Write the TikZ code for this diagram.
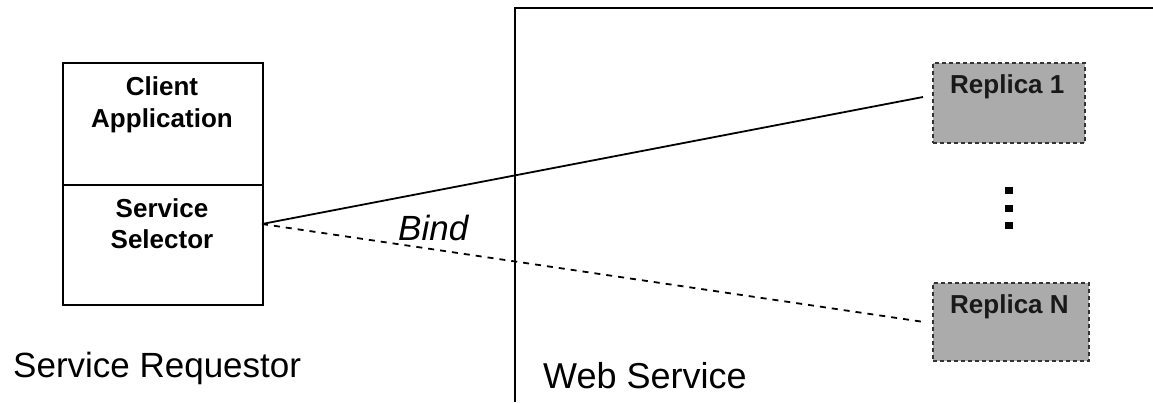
\documentclass[tikz,border=0pt]{standalone}
\usepackage{fontspec}
\setmainfont{Liberation Sans}
\begin{document}
\begin{tikzpicture}[x=1pt,y=-1pt,
  box/.style={draw=black, line width=1.8pt, inner sep=0pt, anchor=north west},
  boxlabel/.style={font=\fontsize{26}{32}\selectfont\bfseries, anchor=base, inner sep=0pt},
  caption/.style={inner sep=0pt, anchor=base west},
  replica/.style={draw=black!80, dashed, dash pattern=on 4pt off 3pt, line width=1.5pt,
    fill=black!33, inner sep=0pt, anchor=north west},
  replicalabel/.style={font=\fontsize{26}{32}\selectfont\bfseries, text=black!90,
    inner sep=0pt, anchor=base west},
  link/.style={line width=1.8pt},
  dot/.style={fill=black, minimum width=8pt, minimum height=7pt, inner sep=0pt}
]
\useasboundingbox (0,0) rectangle (1153,402);

% Web service frame
\draw[line width=2.6pt] (515,402) -- (515,8) -- (1153,8);

% Service requestor: client application stacked on the service selector
\node[box, minimum width=200pt, minimum height=122pt] (client) at (62,62) {};
\node[box, minimum width=200pt, minimum height=120pt] (selector) at (62,184) {};
\node[boxlabel] (clientlbl) at (162,95) {Client};
\node[boxlabel] (applbl) at (162,127) {Application};
\node[boxlabel] (servlbl) at (162,217) {Service};
\node[boxlabel] (sellbl) at (162,248) {Selector};
\coordinate (bindpt) at (262,224);

% Replicas
\node[replica, minimum width=152pt, minimum height=80pt] (rep1) at (932,62) {};
\node[replica, minimum width=156pt, minimum height=78pt] (repN) at (932,282) {};
\node[replicalabel] (rep1lbl) at (950,93) {Replica 1};
\node[replicalabel] (repNlbl) at (950,313) {Replica N};
\coordinate (rep1in) at (923,97);
\coordinate (repNin) at (924,322);

% Ellipsis between replicas
\node[dot] (d1) at (1009,190) {};
\node[dot] (d2) at (1009,208) {};
\node[dot] (d3) at (1009,225) {};

% Bindings
\draw[link] (bindpt) -- (rep1in);
\draw[link, dashed, dash pattern=on 6pt off 6pt] (bindpt) -- (repNin);
\node[caption, font=\fontsize{35}{42}\selectfont\itshape] (bind) at (398,240) {Bind};

% Captions
\node[caption, font=\fontsize{35}{42}\selectfont] (reqlbl) at (13,377) {Service Requestor};
\node[caption, font=\fontsize{36}{42}\selectfont] (wslbl) at (543,388) {Web Service};
\end{tikzpicture}
\end{document}
